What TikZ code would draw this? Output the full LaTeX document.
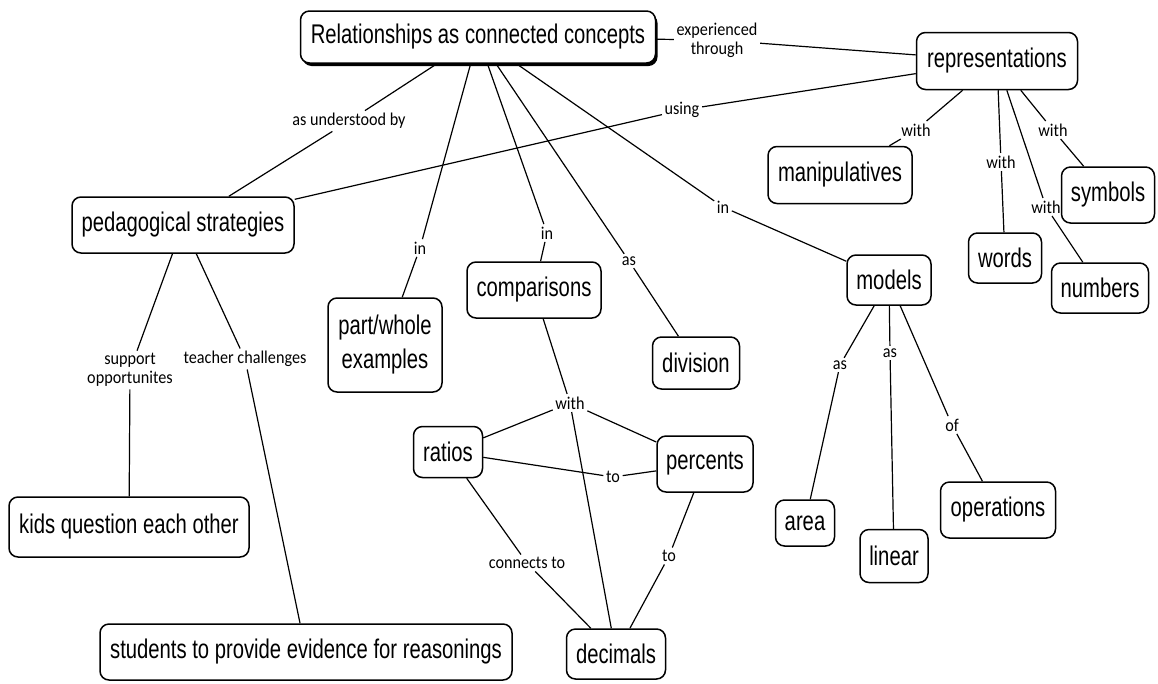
\documentclass[tikz,border=0pt]{standalone}
\usepackage{fontspec}
\setmainfont{Liberation Sans}[FakeStretch=0.75]
\newfontfamily\linkfont{Carlito}[FakeStretch=0.9]
\usetikzlibrary{shadows}

\tikzset{
  concept/.style={draw=black, line width=1.5pt, rounded corners=9pt, fill=white,
    inner sep=0pt, align=center, font=\fontsize{27}{34}\selectfont},
  linklabel/.style={inner sep=2.5pt, align=center, font=\linkfont\fontsize{18}{19}\selectfont},
  conn/.style={line width=1.2pt, black},
}

\begin{document}
\begin{tikzpicture}[x=1pt, y=-1pt]
\useasboundingbox (0,0) rectangle (1158,683);

% concepts
\node[concept, minimum width=355, minimum height=52,
      drop shadow={shadow xshift=2pt, shadow yshift=-3pt, fill=black, opacity=1}]
      (main) at (478,37) {Relationships as connected concepts};
\node[concept, minimum width=161, minimum height=57] (reps) at (997,61) {representations};
\node[concept, minimum width=144, minimum height=57] (manip) at (840,175) {manipulatives};
\node[concept, minimum width=93, minimum height=56] (symbols) at (1108,195) {symbols};
\node[concept, minimum width=73, minimum height=50] (words) at (1005,258) {words};
\node[concept, minimum width=97, minimum height=50] (numbers) at (1100,288) {numbers};
\node[concept, minimum width=84, minimum height=50] (models) at (889,280) {models};
\node[concept, minimum width=222, minimum height=56] (ped) at (183,225) {pedagogical strategies};
\node[concept, minimum width=114, minimum height=94] (pw) at (385,345) {part/whole\\examples};
\node[concept, minimum width=134, minimum height=56] (comp) at (534,290) {comparisons};
\node[concept, minimum width=87, minimum height=52] (div) at (696,363) {division};
\node[concept, minimum width=69, minimum height=51] (ratios) at (448,452) {ratios};
\node[concept, minimum width=96, minimum height=56] (perc) at (705,464) {percents};
\node[concept, minimum width=99, minimum height=50] (dec) at (616,654) {decimals};
\node[concept, minimum width=59, minimum height=46] (area) at (805,523) {area};
\node[concept, minimum width=68, minimum height=53] (linear) at (894,556) {linear};
\node[concept, minimum width=115, minimum height=56] (ops) at (998,510) {operations};
\node[concept, minimum width=240, minimum height=60] (kids) at (129,527) {kids question each other};
\node[concept, minimum width=412, minimum height=56] (students) at (306,652) {students to provide evidence for reasonings};

% linking phrases
\node[linklabel] (lund) at (349,121) {as understood by};
\node[linklabel] (lexp) at (717,40) {experienced\\through};
\node[linklabel] (lusing) at (682,110) {using};
\node[linklabel] (linpw) at (420,248) {in};
\node[linklabel] (lincomp) at (547,233) {in};
\node[linklabel] (lasdiv) at (629,261) {as};
\node[linklabel] (linmod) at (723,207) {in};
\node[linklabel] (lwman) at (916,130) {with};
\node[linklabel] (lwwords) at (1001,162) {with};
\node[linklabel] (lwsym) at (1053,130) {with};
\node[linklabel] (lwnum) at (1046,207) {with};
\node[linklabel] (lsup) at (130,370) {support\\opportunites};
\node[linklabel] (ltch) at (245,359) {teacher challenges};
\node[linklabel] (lwcomp) at (570,403) {with};
\node[linklabel] (lto) at (613,477) {to};
\node[linklabel] (lcon) at (527,563) {connects to};
\node[linklabel] (ltodec) at (669,556) {to};
\node[linklabel] (lasarea) at (840,365) {as};
\node[linklabel] (laslin) at (890,353) {as};
\node[linklabel] (lof) at (952,425) {of};

% connectors
\draw[conn] (main) -- (lund) -- (ped);
\draw[conn] (main) -- (lexp) -- (reps);
\draw[conn] (reps) -- (lusing) -- (ped);
\draw[conn] (main) -- (linpw) -- (pw);
\draw[conn] (main) -- (lincomp) -- (comp);
\draw[conn] (main) -- (lasdiv) -- (div);
\draw[conn] (main) -- (linmod) -- (models);
\draw[conn] (reps) -- (lwman) -- (manip);
\draw[conn] (reps) -- (lwwords) -- (words);
\draw[conn] (reps) -- (lwsym) -- (symbols);
\draw[conn] (reps) -- (lwnum) -- (numbers);
\draw[conn] (ped) -- (lsup) -- (kids);
\draw[conn] (ped) -- (ltch) -- (students);
\draw[conn] (comp) -- (lwcomp);
\draw[conn] (lwcomp) -- (ratios);
\draw[conn] (lwcomp) -- (perc);
\draw[conn] (lwcomp) -- (dec);
\draw[conn] (ratios) -- (lto) -- (perc);
\draw[conn] (ratios) -- (lcon) -- (dec);
\draw[conn] (perc) -- (ltodec) -- (dec);
\draw[conn] (models) -- (lasarea) -- (area);
\draw[conn] (models) -- (laslin) -- (linear);
\draw[conn] (models) -- (lof) -- (ops);
\end{tikzpicture}
\end{document}
